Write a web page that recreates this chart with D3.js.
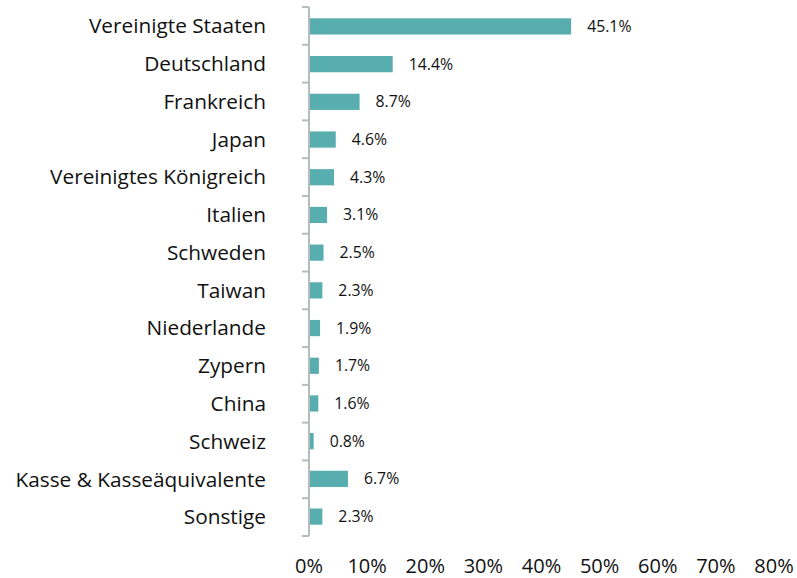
<!DOCTYPE html>
<html>
<head>
<meta charset="utf-8">
<script src="https://cdn.jsdelivr.net/npm/d3@7"></script>
<style>
  body { margin: 0; background: #fff; }
  text { font-family: "Open Sans", sans-serif; fill: #111; }
</style>
</head>
<body>
<script>
const laender = ['Vereinigte Staaten', 'Deutschland', 'Frankreich', 'Japan',
  'Vereinigtes Königreich', 'Italien', 'Schweden', 'Taiwan', 'Niederlande',
  'Zypern', 'China', 'Schweiz', 'Kasse & Kasseäquivalente', 'Sonstige'];
const anteile = [45.1, 14.4, 8.7, 4.6, 4.3, 3.1, 2.5, 2.3, 1.9, 1.7, 1.6, 0.8, 6.7, 2.3];
const xTicks  = [0, 10, 20, 30, 40, 50, 60, 70, 80];

const width  = 797;
const height = 578;

const svg = d3.select('body').append('svg')
    .attr('width', width)
    .attr('height', height);

const x = d3.scaleLinear().domain([0, 80]).range([309, 774]);
const y = d3.scaleBand().domain(laender).range([7, 536]).paddingInner(0.57).paddingOuter(0.3);
const yTicks = d3.scaleBand().domain(laender).range([7, 536]);

// balken
svg.selectAll('.bar')
    .data(laender)
    .enter().append('rect')
    .attr('class', 'bar')
    .attr('x', x(0))
    .attr('y', d => y(d))
    .attr('width', (d, i) => x(anteile[i]) - x(0))
    .attr('height', y.bandwidth())
    .style('fill', '#58aeae');

// werte
svg.selectAll('.wert')
    .data(laender)
    .enter().append('text')
    .attr('class', 'wert')
    .attr('x', (d, i) => x(anteile[i]) + 16)
    .attr('y', d => y(d) + y.bandwidth() / 2)
    .attr('dy', '0.35em')
    .style('font-size', '15.8px')
    .text((d, i) => anteile[i].toFixed(1) + '%');

// y-achse mit ticks zwischen den kategorien
const yAxis = svg.append('g');
yAxis.append('line')
    .attr('x1', 309).attr('x2', 309)
    .attr('y1', 7).attr('y2', 536)
    .style('stroke', '#b4bcbc').style('stroke-width', 2);
yAxis.selectAll('.tick')
    .data(laender.concat(['_end']))
    .enter().append('line')
    .attr('x1', 302).attr('x2', 309)
    .attr('y1', (d, i) => i < laender.length ? yTicks(d) : 536)
    .attr('y2', (d, i) => i < laender.length ? yTicks(d) : 536)
    .style('stroke', '#b4bcbc').style('stroke-width', 2);

yAxis.selectAll('.label')
    .data(laender)
    .enter().append('text')
    .attr('x', 266)
    .attr('y', d => yTicks(d) + yTicks.bandwidth() / 2)
    .attr('dy', '0.35em')
    .attr('text-anchor', 'end')
    .style('font-size', '20.8px')
    .text(d => d);

// x-achse (nur beschriftung)
svg.selectAll('.xlabel')
    .data(xTicks)
    .enter().append('text')
    .attr('x', d => x(d))
    .attr('y', 572.5)
    .attr('text-anchor', 'middle')
    .style('font-size', '20px')
    .text(d => d + '%');
</script>
</body>
</html>
